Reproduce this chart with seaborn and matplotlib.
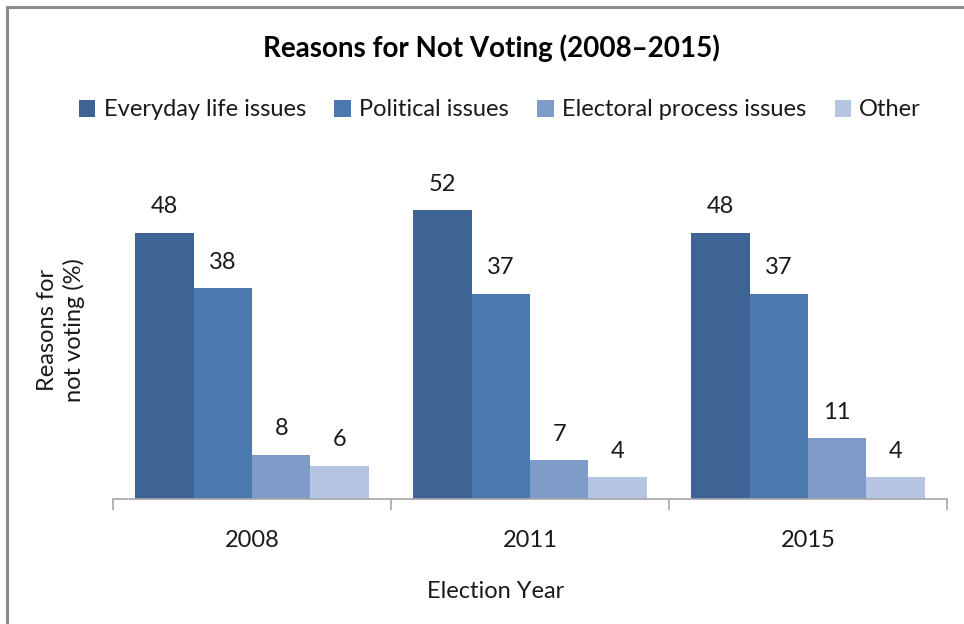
import matplotlib
matplotlib.use("Agg")
import matplotlib.pyplot as plt
from matplotlib.lines import Line2D
import seaborn as sns
import pandas as pd

years = ["2008", "2011", "2015"]
reasons = ["Everyday life issues", "Political issues", "Electoral process issues", "Other"]
everyday = [48, 52, 48]
political = [38, 37, 37]
electoral = [8, 7, 11]
other = [6, 4, 4]
colors = ["#3D6495", "#4A78AF", "#7F9CC8", "#B5C4E0"]

rows = []
for reason, vals in zip(reasons, [everyday, political, electoral, other]):
    for y, v in zip(years, vals):
        rows.append({"Year": y, "Reason": reason, "Value": v})
df = pd.DataFrame(rows)

sns.set_theme(style="white")
plt.rcParams["font.family"] = ["Lato", "DejaVu Sans"]

fig = plt.figure(figsize=(9.64, 6.24), dpi=100)
ax = fig.add_axes([113 / 964, 1 - 499 / 624, (947 - 113) / 964, 333 / 624])

sns.barplot(data=df, x="Year", y="Value", hue="Reason", order=years,
            hue_order=reasons, palette=colors, width=0.84, saturation=1,
            edgecolor="none", linewidth=0, ax=ax, legend=False)

for cont in ax.containers:
    ax.bar_label(cont, fmt="%d", padding=11, fontsize=17, color="#1A1A1A")

ax.set_ylim(0, 60)
ax.set_xlim(-0.5, 2.5)
ax.set_yticks([])
ax.set_xlabel("")
ax.set_ylabel("")
for s in ["top", "right", "left"]:
    ax.spines[s].set_visible(False)
ax.spines["bottom"].set_color("#A6A6A6")
ax.spines["bottom"].set_linewidth(1.2)
ax.set_xticks([-0.5, 0.5, 1.5, 2.5], minor=True)
ax.tick_params(axis="x", which="minor", length=8, width=1.2, color="#A6A6A6",
               direction="out", bottom=True)
ax.tick_params(axis="x", which="major", length=0, pad=22, labelsize=17,
               labelcolor="#1A1A1A")

fig.text(491 / 964, 1 - 48 / 624, "Reasons for Not Voting (2008\u20132015)",
         ha="center", va="center", fontsize=20, fontweight="bold", color="#000000")

handles = [plt.Rectangle((0, 0), 1, 1, facecolor=c, edgecolor="none") for c in colors]
fig.legend(handles, reasons, loc="center", bbox_to_anchor=(500 / 964, 1 - 110 / 624),
           ncol=4, frameon=False, fontsize=17, handlelength=0.7, handleheight=0.7,
           handletextpad=0.35, columnspacing=1.2, labelcolor="#1A1A1A")

fig.text(496 / 964, 1 - 591 / 624, "Election Year", ha="center", va="center",
         fontsize=17, color="#1A1A1A")
fig.text(61 / 964, 1 - 330 / 624, "Reasons for\nnot voting (%)", ha="center",
         va="center", rotation=90, fontsize=17, color="#1A1A1A", linespacing=1.25)

# frame edges along the left and top
fig.add_artist(Line2D([7 / 964, 7 / 964], [0, 1 - 7 / 624], transform=fig.transFigure,
                      color="#8C8C8C", linewidth=2.2))
fig.add_artist(Line2D([7 / 964, 1], [1 - 7 / 624, 1 - 7 / 624], transform=fig.transFigure,
                      color="#8C8C8C", linewidth=2.2))

fig.savefig("out.png", dpi=100, facecolor="white")
